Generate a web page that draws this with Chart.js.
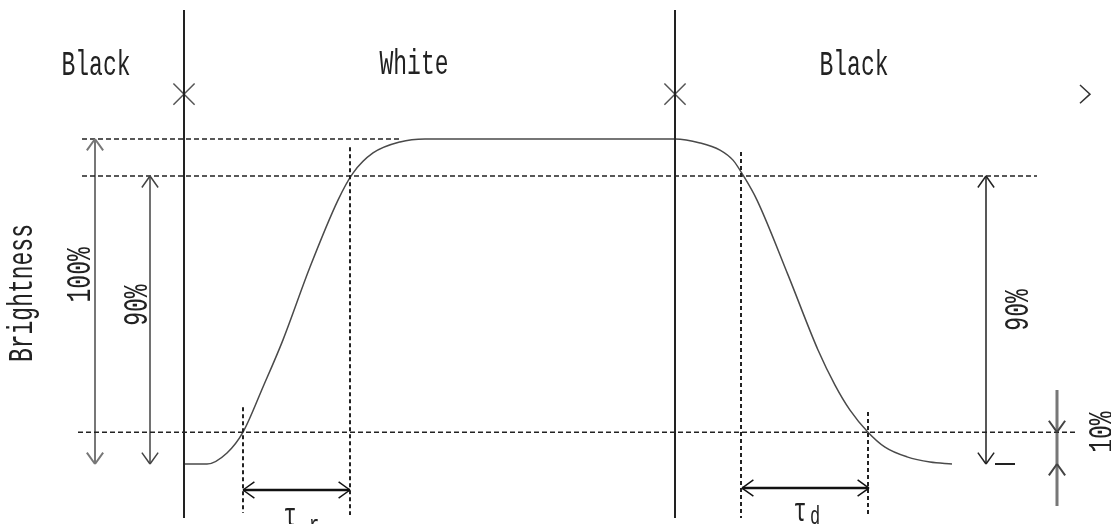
<!DOCTYPE html>
<html>
<head>
<meta charset="utf-8">
<script src="https://cdn.jsdelivr.net/npm/chart.js@4/dist/chart.umd.min.js"></script>
<style>
  html, body { margin: 0; padding: 0; background: #fff; }
  #wrap { width: 1111px; height: 524px; position: relative; }
</style>
</head>
<body>
<div id="wrap"><canvas id="chart"></canvas></div>
<script>
// time axis (arbitrary units) and brightness level (%)
const curveTime = [18.4, 20.7, 22.7, 24.3, 26.3, 28.3, 31.0, 33.8, 35.3, 37.3, 40.0, 42.5,
    67.5, 70.0, 72.0, 73.3, 74.3, 75.7, 78.8, 81.8, 83.5, 85.0, 86.8, 88.5, 90.7, 93.0, 95.2];
const curveLevel = [0, 0, 3.4, 9.8, 23.7, 38.2, 60.6, 81.2, 89.5, 95.7, 99.1, 100,
    100, 98.8, 96.6, 93.5, 88.9, 81.2, 58.2, 35.1, 24.3, 16.6, 9.8, 5.2, 2.2, 0.6, 0];

const switchTimes = [18.4, 67.5];
const switchTop = 139.7;
const switchBottom = -16.6;

const refLevels = [100, 88.6, 9.8];
const refStart = [8.2, 8.2, 7.8];
const refEnd = [40.0, 103.7, 107.5];

const markTimes = [24.3, 35.0, 74.1, 86.8];
const markTop = [17.5, 97.5, 96.0, 16.0];
const markBottom = [-15.1, -15.7, -16.6, -16.3];

const arrowTimes = [9.5, 15.0, 98.6];
const arrowTop = [100, 88.6, 88.6];
const arrowBottom = [0, 0, 0];

const spanStart = [24.3, 74.2];
const spanEnd = [35.0, 86.9];
const spanLevel = [-8.0, -7.4];

const tickTimes = [99.5, 101.5];
const tickLevel = 0;

const tenTime = 105.7;
const tenLevels = [22.8, 9.8, 0, -12.9];

const crossLevel = 113.8;
const gtTimes = [108.0, 109.0, 108.0];
const gtLevels = [116.6, 113.8, 111.0];

const labelTexts = ['Black', 'White', 'Black', 'Brightness', '100%', '90%', '90%', '10%'];
const labelTimes = [9.6, 41.4, 85.4, 3.2, 9.0, 14.7, 102.8, 111.2];
const labelLevels = [119.7, 120.0, 119.7, 52.6, 58.2, 48.9, 47.4, 9.8];
const labelAngles = [0, 0, 0, -90, -90, -90, -90, -90];

const subTexts = ['τ', 'r', 'τ', 'd'];
const subTimes = [29.0, 31.4, 80.0, 81.5];
const subLevels = [-19.1, -21.2, -17.5, -18.5];

function pts(xs, ys) {
    return xs.map((x, i) => ({ x: x, y: ys[i] }));
}

function line(data, color, width, extra) {
    return Object.assign({
        data: data,
        showLine: true,
        borderColor: color,
        backgroundColor: color,
        borderWidth: width,
        pointRadius: 0,
        fill: false,
        clip: false
    }, extra || {});
}

const datasets = [];

// reference levels (dashed)
refLevels.forEach((lv, i) => {
    datasets.push(line(pts([refStart[i], refEnd[i]], [lv, lv]), '#222', 1.5, { borderDash: [5, 3] }));
});

// time markers (dashed verticals)
markTimes.forEach((t, i) => {
    datasets.push(line(pts([t, t], [markTop[i], markBottom[i]]), '#222', 2, { borderDash: [4, 3] }));
});

// switching instants
switchTimes.forEach(t => {
    datasets.push(line(pts([t, t], [switchTop, switchBottom]), '#222', 2));
});

// response curve
datasets.push(line(pts(curveTime, curveLevel), '#4a4a4a', 1.5, { cubicInterpolationMode: 'monotone' }));

// vertical double arrows
const arrowColors = ['#777', '#444', '#222'];
arrowTimes.forEach((t, i) => {
    datasets.push(line(pts([t, t], [arrowTop[i], arrowBottom[i]]), arrowColors[i], i === 0 ? 2 : 1.5,
        { heads: [[0, 1], [1, 0]] }));
});

// tick at bottom right
datasets.push(line(pts(tickTimes, [tickLevel, tickLevel]), '#222', 2));

// horizontal double arrows
spanStart.forEach((s, i) => {
    datasets.push(line(pts([s, spanEnd[i]], [spanLevel[i], spanLevel[i]]), '#111', 2.5,
        { heads: [[0, 1], [1, 0]], headWidth: 1.5 }));
});

// 10% indicator
datasets.push(line(pts(tenLevels.map(() => tenTime), tenLevels), '#777', 3,
    { heads: [[1, 0], [2, 3]], headWidth: 2, headColor: '#444' }));

// X marks on the switching lines
datasets.push({
    data: pts(switchTimes, switchTimes.map(() => crossLevel)),
    showLine: false,
    pointStyle: 'crossRot',
    pointRadius: 15,
    borderColor: '#555',
    pointBorderWidth: 1.5,
    clip: false
});

// chevron on the right
datasets.push(line(pts(gtTimes, gtLevels), '#333', 1.5));

const arrowHeads = {
    id: 'arrowHeads',
    afterDatasetsDraw(chart) {
        const ctx = chart.ctx;
        chart.data.datasets.forEach((ds, i) => {
            if (!ds.heads) return;
            const el = chart.getDatasetMeta(i).data;
            ds.heads.forEach(([tipIdx, fromIdx]) => {
                const tip = el[tipIdx], from = el[fromIdx];
                const ang = Math.atan2(tip.y - from.y, tip.x - from.x);
                const len = 14, spread = 0.62;
                ctx.save();
                ctx.strokeStyle = ds.headColor || ds.borderColor;
                ctx.lineWidth = ds.headWidth || ds.borderWidth;
                ctx.beginPath();
                [-1, 1].forEach(s => {
                    ctx.moveTo(tip.x, tip.y);
                    ctx.lineTo(tip.x - len * Math.cos(ang + s * spread), tip.y - len * Math.sin(ang + s * spread));
                });
                ctx.stroke();
                ctx.restore();
            });
        });
    }
};

function stretchedText(ctx, text, x, y, angle, size) {
    ctx.save();
    ctx.translate(x, y);
    ctx.rotate(angle * Math.PI / 180);
    ctx.scale(1, 1.5);
    ctx.font = size + 'px "Liberation Mono", monospace';
    ctx.textAlign = 'center';
    ctx.textBaseline = 'alphabetic';
    ctx.fillStyle = '#222';
    ctx.fillText(text, 0, 0);
    ctx.restore();
}

const textLabels = {
    id: 'textLabels',
    afterDraw(chart) {
        const ctx = chart.ctx;
        const xs = chart.scales.x, ys = chart.scales.y;
        labelTexts.forEach((txt, i) => {
            stretchedText(ctx, txt, xs.getPixelForValue(labelTimes[i]), ys.getPixelForValue(labelLevels[i]),
                labelAngles[i], 23);
        });
        subTexts.forEach((txt, i) => {
            stretchedText(ctx, txt, xs.getPixelForValue(subTimes[i]), ys.getPixelForValue(subLevels[i]),
                0, i % 2 ? 17 : 22);
        });
    }
};

new Chart(document.getElementById('chart'), {
    type: 'scatter',
    data: { datasets: datasets },
    options: {
        responsive: true,
        maintainAspectRatio: false,
        animation: false,
        events: [],
        layout: { padding: 0, autoPadding: false },
        plugins: { legend: { display: false }, tooltip: { enabled: false } },
        scales: {
            x: { type: 'linear', display: false, min: 0, max: 111.1 },
            y: { type: 'linear', display: false, min: -18.46, max: 142.77 }
        }
    },
    plugins: [arrowHeads, textLabels]
});
</script>
</body>
</html>
